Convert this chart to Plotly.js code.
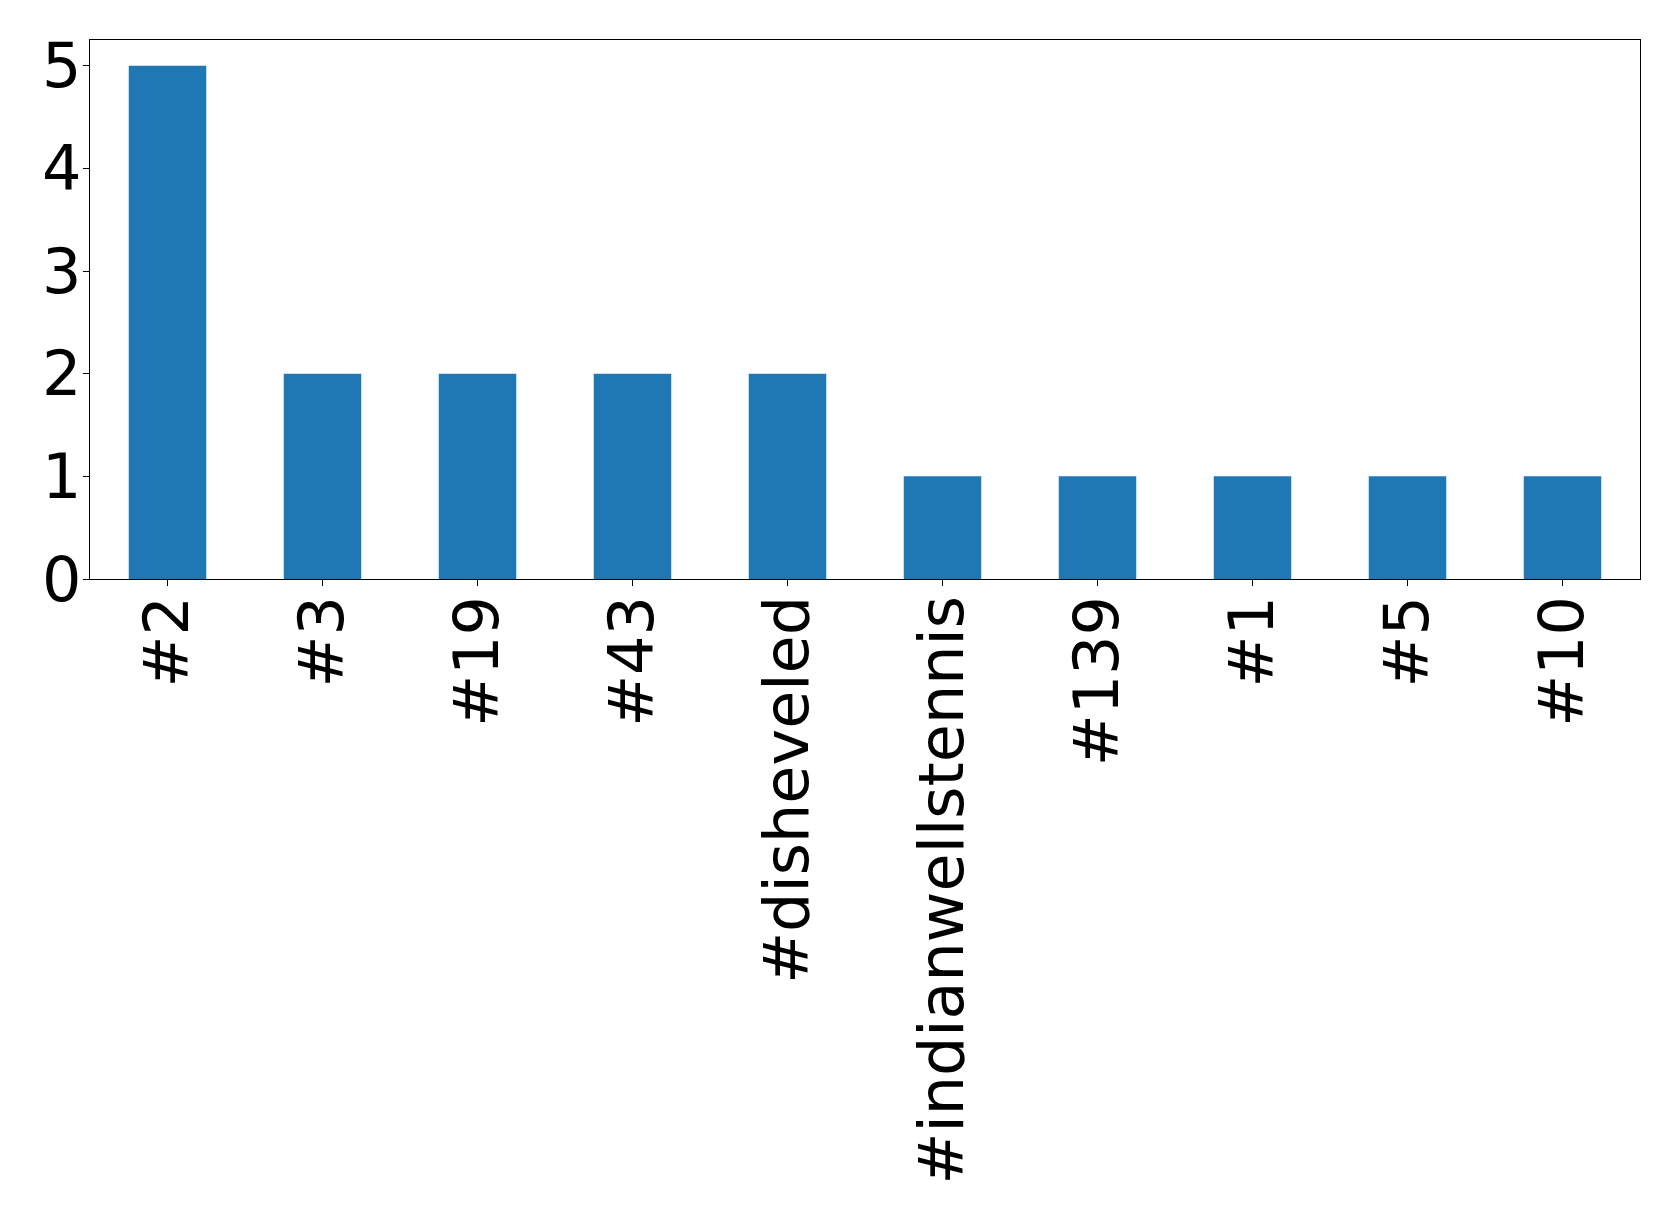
<!DOCTYPE html>
<html>
<head>
<meta charset="utf-8">
<script src="https://cdn.plot.ly/plotly-3.0.1.min.js"></script>
<style>html,body{margin:0;padding:0;background:#fff;}#chart{width:1679px;height:1221px;}</style>
</head>
<body>
<div id="chart"></div>
<script>
const categories = ["#2", "#3", "#19", "#43", "#disheveled", "#indianwellstennis", "#139", "#1", "#5", "#10"];
const counts = [5, 2, 2, 2, 2, 1, 1, 1, 1, 1];
const yTicks = [0, 1, 2, 3, 4, 5];

const trace = {
  type: "bar",
  x: categories,
  y: counts,
  width: 0.5,
  marker: {color: "#1f77b4", line: {width: 0}},
  hoverinfo: "x+y"
};

const layout = {
  width: 1679,
  height: 1221,
  margin: {l: 90, r: 39, t: 40, b: 642, pad: 0},
  paper_bgcolor: "#ffffff",
  plot_bgcolor: "#ffffff",
  showlegend: false,
  font: {family: "DejaVu Sans", color: "#000000"},
  xaxis: {
    type: "category",
    range: [-0.5, 9.5],
    tickangle: -90,
    tickfont: {size: 62, family: "DejaVu Sans", color: "#000"},
    ticks: "outside",
    ticklen: 6,
    tickwidth: 1,
    tickcolor: "#000",
    ticklabelstandoff: -15,
    showline: true,
    linecolor: "#000",
    linewidth: 1.2,
    mirror: true,
    showgrid: false,
    zeroline: false,
    automargin: false
  },
  yaxis: {
    range: [0, 5.25],
    tickvals: yTicks,
    ticktext: yTicks.map(String),
    tickfont: {size: 62, family: "DejaVu Sans", color: "#000"},
    ticks: "outside",
    ticklen: 6,
    tickwidth: 1,
    tickcolor: "#000",
    ticklabelstandoff: -11,
    showline: true,
    linecolor: "#000",
    linewidth: 1.2,
    mirror: true,
    showgrid: false,
    zeroline: false,
    automargin: false
  }
};

Plotly.newPlot("chart", [trace], layout, {displayModeBar: false, staticPlot: true});
</script>
</body>
</html>
